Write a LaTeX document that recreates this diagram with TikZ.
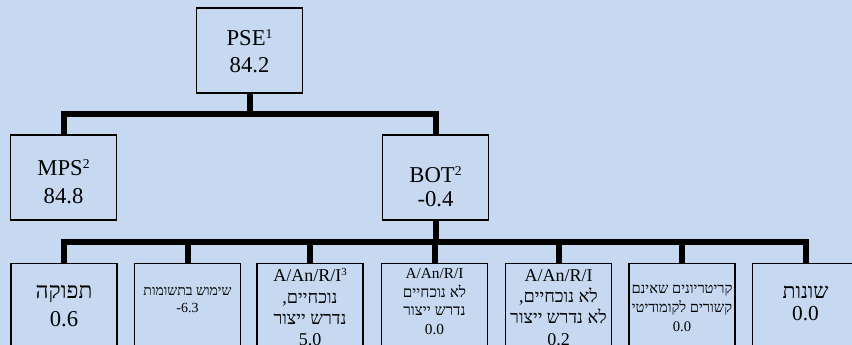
\documentclass[tikz,border=0pt]{standalone}
\usepackage{fontspec}
\setmainfont{Liberation Serif}
\newfontfamily\heb[Script=Hebrew]{Liberation Serif}
\TeXXeTstate=1
\usetikzlibrary{calc}
\definecolor{bg}{HTML}{C6D9F1}
\newcommand\hb[1]{{\heb\beginR #1\endR}}
\newcommand\sups[1]{\raisebox{0.33em}{\scalebox{0.6}{#1}}}
\begin{document}
\begin{tikzpicture}[x=0.75pt,y=-0.75pt,
  box/.style={draw=black,line width=0.8pt,fill=bg,minimum width=80pt,minimum height=63.75pt,inner sep=0pt},
  lowbox/.style={draw=black,line width=0.8pt,fill=bg,minimum width=79.5pt,minimum height=75pt,inner sep=0pt,anchor=north},
  conn/.style={line width=4.5pt,black},
  lbl/.style={inner sep=0pt,align=center,anchor=north}]
\useasboundingbox (0,0) rectangle (852,345);
\clip (0,0) rectangle (852,345);
\fill[bg] (0,0) rectangle (852,345);

\node[box] (pse) at (249.5,50.5) {};
\node[box] (mps) at (63.5,177.5) {};
\node[box] (bot) at (435.5,177.5) {};
\node[lbl,font={\fontsize{17}{20}\selectfont}] (pseT) at (249.5,29) {PSE\sups{1}\\84.2};
\node[lbl,font={\fontsize{17}{21}\selectfont}] (mpsT) at (63.5,159) {MPS\sups{2}\\84.8};
\node[lbl,font={\fontsize{17}{18}\selectfont}] (botT) at (435.5,166) {BOT\sups{2}\\-0.4};

\node[lowbox] (b1) at (64,263) {};
\node[lowbox] (b2) at (187.5,263) {};
\node[lowbox] (b3) at (310,263) {};
\node[lowbox] (b4) at (434.5,263) {};
\node[lowbox] (b5) at (558.5,263) {};
\node[lowbox] (b6) at (682,263) {};
\node[lowbox] (b7) at (805.5,263) {};

\node[lbl,font={\fontsize{17}{21}\selectfont}] (t1) at (64,284.5) {\hb{תפוקה}\\0.6};
\node[lbl,font={\fontsize{10.5}{12.5}\selectfont}] (t2) at (187.5,287) {\hb{שימוש בתשומות}\\-6.3};
\node[lbl,font={\fontsize{13.5}{16}\selectfont}] (t3) at (310,268.5) {A/An/R/I\sups{3}\\\hb{נוכחיים,}\\\hb{נדרש ייצור}\\5.0};
\node[lbl,font={\fontsize{11.5}{14}\selectfont}] (t4) at (434.5,268) {A/An/R/I\\\hb{לא נוכחיים}\\\hb{נדרש ייצור}\\0.0};
\node[lbl,font={\fontsize{13.5}{16}\selectfont}] (t5) at (558.5,269) {A/An/R/I\\\hb{לא נוכחיים,}\\\hb{לא נדרש ייצור}\\0.2};
\node[lbl,font={\fontsize{11}{14}\selectfont}] (t6) at (682,285) {\hb{קריטריונים שאינם}\\\hb{קשורים לקומודיטי}\\0.0};
\node[lbl,font={\fontsize{16}{17}\selectfont}] (t7) at (805.5,285.5) {\hb{שונות}\\0.0};

\coordinate (j1) at (249.5,114.5);
\coordinate (j2) at (435.5,241.5);
\draw[conn] (pse.south) -- (j1);
\draw[conn] (mps.north) |- (j1) -| (bot.north);
\draw[conn] (bot.south) -- (j2);
\draw[conn] (b1.north) |- (j2) -| (b7.north);
\foreach \b in {b2,b3,b4,b5,b6}{\draw[conn] (\b.north) -- (\b.north |- j2);}
\end{tikzpicture}
\end{document}
